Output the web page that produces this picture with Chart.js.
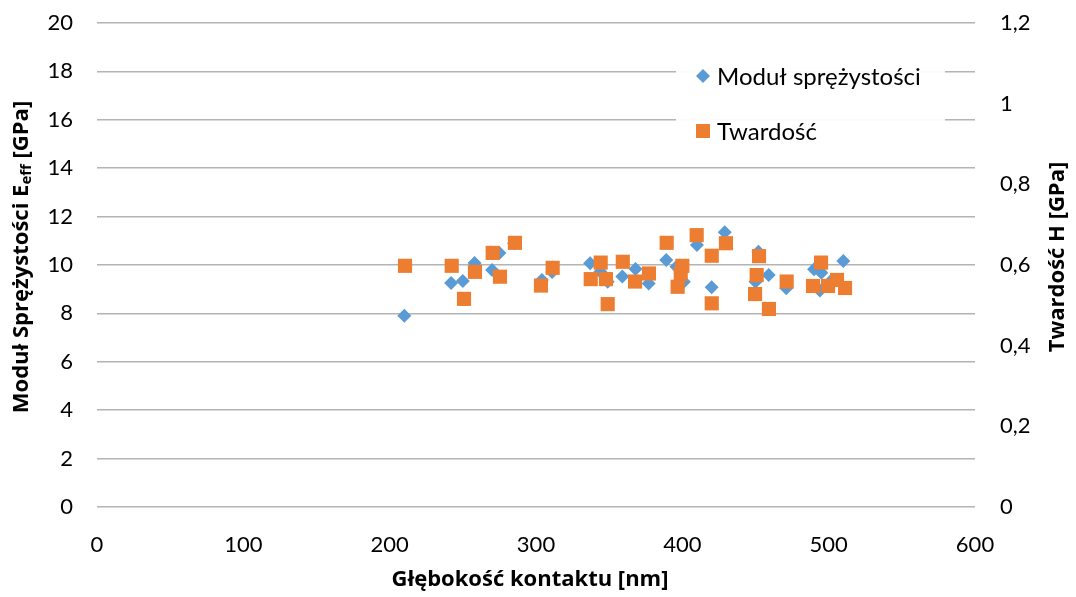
<!DOCTYPE html>
<html>
<head>
<meta charset="utf-8">
<script src="https://cdn.jsdelivr.net/npm/chart.js@4"></script>
<style>
html,body{margin:0;padding:0;background:#fff;}
#wrap{width:1076px;height:597px;}
</style>
</head>
<body>
<div id="wrap"><canvas id="c" width="1076" height="597"></canvas></div>
<script>
const xTicks = [0, 100, 200, 300, 400, 500, 600];
const leftTicks = [0, 2, 4, 6, 8, 10, 12, 14, 16, 18, 20];
const rightTicks = [0, 0.2, 0.4, 0.6, 0.8, 1, 1.2];

const modulDepth = [210, 242, 250, 258, 270, 275, 285, 304, 311, 337, 344, 349, 359, 368, 377, 389, 396, 401, 410, 420, 429, 450, 452, 459, 471, 490, 494, 495, 501, 510];
const modulValue = [7.9, 9.26, 9.34, 10.08, 9.79, 10.5, 10.9, 9.38, 9.71, 10.07, 9.72, 9.31, 9.52, 9.83, 9.24, 10.21, 9.93, 9.31, 10.83, 9.08, 11.35, 9.31, 10.55, 9.59, 9.04, 9.82, 8.95, 9.68, 9.31, 10.17];

const twardDepth = [210.5, 242.4, 250.8, 258.3, 270.4, 275.4, 285.6, 303.4, 311.4, 337.4, 344.2, 347.8, 349, 359.3, 367.7, 377.2, 389.3, 396.8, 398.9, 400, 409.8, 420.1, 420.1, 429.8, 449.7, 450.8, 452.4, 459.2, 471.3, 489.3, 494.8, 499.6, 505.7, 511.2];
const twardValue = [0.598, 0.598, 0.516, 0.583, 0.630, 0.571, 0.655, 0.549, 0.593, 0.565, 0.606, 0.565, 0.503, 0.608, 0.559, 0.579, 0.655, 0.546, 0.578, 0.598, 0.674, 0.623, 0.505, 0.654, 0.528, 0.575, 0.622, 0.491, 0.559, 0.548, 0.606, 0.548, 0.563, 0.543];

const seriesNames = ['Moduł sprężystości', 'Twardość'];
const xTitle = 'Głębokość kontaktu [nm]';
const leftTitle = ['Moduł Sprężystości E', 'eff', ' [GPa]'];
const rightTitle = 'Twardość H [GPa]';

const BLUE = '#5B9BD5';
const ORANGE = '#ED7D31';
const FONT = 'Lato, "Open Sans", sans-serif';
const TFONT = '"Open Sans", "Noto Sans", sans-serif';

const modulData = modulDepth.map((x, i) => ({x: x, y: modulValue[i]}));
const twardData = twardDepth.map((x, i) => ({x: x, y: twardValue[i]}));

function fmtComma(v) {
  return String(Number(v.toFixed(1))).replace('.', ',');
}

const customPlugin = {
  id: 'customText',
  beforeDatasetsDraw(chart) {
    const ctx = chart.ctx;
    ctx.save();
    ctx.fillStyle = 'rgba(255,255,255,0.93)';
    ctx.fillRect(676, 52, 269, 100);
    ctx.restore();
  },
  afterDraw(chart) {
    const ctx = chart.ctx;
    ctx.save();
    // legend
    ctx.fillStyle = BLUE;
    ctx.beginPath();
    ctx.moveTo(703 - 7, 76); ctx.lineTo(703, 69); ctx.lineTo(703 + 7, 76); ctx.lineTo(703, 83);
    ctx.closePath(); ctx.fill();
    ctx.fillStyle = ORANGE;
    ctx.fillRect(696, 124, 14, 14);
    ctx.fillStyle = '#000';
    ctx.font = '24px ' + FONT;
    ctx.textAlign = 'left';
    ctx.textBaseline = 'middle';
    ctx.fillText(seriesNames[0], 717, 77);
    ctx.fillText(seriesNames[1], 717, 132);

    // x title
    ctx.font = 'bold 22px ' + TFONT;
    ctx.textAlign = 'center';
    ctx.fillText(xTitle, 530, 580);

    // left title with subscript
    const cy = 257;
    ctx.save();
    ctx.translate(22, cy);
    ctx.rotate(-Math.PI / 2);
    const fMain = 'bold 22px ' + TFONT;
    const fSub = 'bold 15px ' + TFONT;
    ctx.font = fMain; const w1 = ctx.measureText(leftTitle[0]).width;
    const w3 = ctx.measureText(leftTitle[2]).width;
    ctx.font = fSub; const w2 = ctx.measureText(leftTitle[1]).width;
    let sx = -(w1 + w2 + w3) / 2;
    ctx.textAlign = 'left';
    ctx.font = fMain; ctx.fillText(leftTitle[0], sx, 0);
    ctx.font = fSub; ctx.fillText(leftTitle[1], sx + w1, 5);
    ctx.font = fMain; ctx.fillText(leftTitle[2], sx + w1 + w2, 0);
    ctx.restore();

    // right title
    ctx.save();
    ctx.translate(1058, cy);
    ctx.rotate(-Math.PI / 2);
    ctx.font = 'bold 22px ' + TFONT;
    ctx.textAlign = 'center';
    ctx.fillText(rightTitle, 0, 0);
    ctx.restore();
    ctx.restore();
  }
};

new Chart(document.getElementById('c'), {
  type: 'scatter',
  data: {
    datasets: [
      {
        label: seriesNames[0], data: modulData, yAxisID: 'y', order: 2,
        pointStyle: 'rectRot', pointRadius: 7, pointHoverRadius: 7,
        backgroundColor: BLUE, borderColor: BLUE, borderWidth: 0
      },
      {
        label: seriesNames[1], data: twardData, yAxisID: 'y1', order: 1,
        pointStyle: 'rect', pointRadius: 10, pointHoverRadius: 10,
        backgroundColor: ORANGE, borderColor: ORANGE, borderWidth: 0
      }
    ]
  },
  options: {
    responsive: false,
    animation: false,
    layout: {padding: {top: 23, left: 0, right: 0, bottom: 0}},
    plugins: {legend: {display: false}, tooltip: {enabled: false}},
    scales: {
      x: {
        type: 'linear', min: 0, max: 600,
        afterBuildTicks(s) { s.ticks = xTicks.map(v => ({value: v})); },
        grid: {display: false, drawTicks: false},
        border: {display: false},
        ticks: {color: '#000', font: {family: FONT, size: 22}, padding: 25, maxRotation: 0},
        afterFit(s) { s.height = 90; s.paddingLeft = 0; s.paddingRight = 0; }
      },
      y: {
        type: 'linear', position: 'left', min: 0, max: 20,
        afterBuildTicks(s) { s.ticks = leftTicks.map(v => ({value: v})); },
        grid: {color: '#b4b4b4', lineWidth: 1.5, drawTicks: false},
        border: {display: false},
        ticks: {color: '#000', font: {family: FONT, size: 22}, padding: 24},
        afterFit(s) { s.width = 97; s.paddingTop = 0; s.paddingBottom = 0; }
      },
      y1: {
        type: 'linear', position: 'right', min: 0, max: 1.2,
        afterBuildTicks(s) { s.ticks = rightTicks.map(v => ({value: v})); },
        grid: {display: false, drawTicks: false},
        border: {display: false},
        ticks: {color: '#000', font: {family: FONT, size: 22}, padding: 25, callback: v => fmtComma(v)},
        afterFit(s) { s.width = 101; s.paddingTop = 0; s.paddingBottom = 0; }
      }
    }
  },
  plugins: [customPlugin]
});
</script>
</body>
</html>
